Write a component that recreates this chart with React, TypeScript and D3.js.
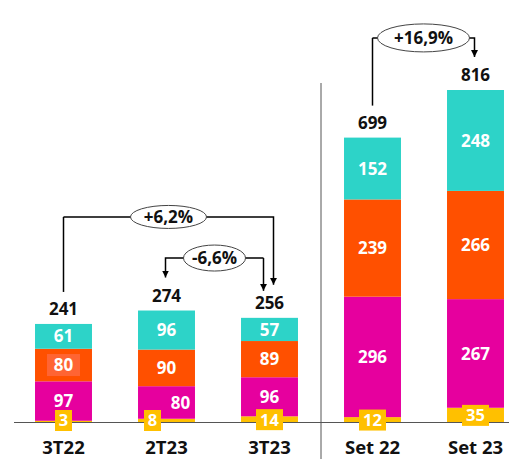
import React from 'react';
import * as d3 from 'd3';

const categories = ['3T22', '2T23', '3T23', 'Set 22', 'Set 23'];
const yellowValues = [3, 8, 14, 12, 35];
const magentaValues = [97, 80, 96, 296, 267];
const orangeValues = [80, 90, 89, 239, 266];
const cyanValues = [61, 96, 57, 152, 248];
const totals = [241, 274, 256, 699, 816];

const seriesColors = ['#FFC000', '#E6009E', '#FF5000', '#2DD3C8'];

// change brackets: from category, to category, label, bracket level (in chart units)
const changes = [
  { from: 0, to: 2, label: '+6,2%', level: 504, arrowFrom: false, dxFrom: 0, dxTo: 4, rx: 38, ry: 11.5 },
  { from: 2, to: 1, label: '-6,6%', level: 403, arrowFrom: true, dxFrom: -6, dxTo: -1, rx: 31, ry: 13 },
  { from: 3, to: 4, label: '+16,9%', level: 944, arrowFrom: false, dxFrom: 0, dxTo: -1, rx: 46, ry: 14 },
];

const W = 509;
const H = 459;
const baseY = 422;
const font = '"Open Sans", Lato, sans-serif';

const App: React.FC = () => {
  const x = d3.scaleBand<string>()
    .domain(categories)
    .range([12, 527])
    .paddingInner(0.447)
    .paddingOuter(0.2235);
  const y = d3.scaleLinear().domain([0, 816]).range([baseY, 90]);

  const rows = categories.map((c, i) => ({
    cat: c,
    v0: yellowValues[i],
    v1: magentaValues[i],
    v2: orangeValues[i],
    v3: cyanValues[i],
  }));
  const stack = d3.stack<any>().keys(['v0', 'v1', 'v2', 'v3'])(rows);

  const bw = x.bandwidth();
  const cx = (i: number) => (x(categories[i]) as number) + bw / 2;
  const sepX = (cx(2) + cx(3)) / 2;

  return (
    <svg width={W} height={H} style={{ position: 'absolute', left: 0, top: 0 }} fontFamily={font}>
      <defs>
        <marker id="arr" viewBox="0 0 10 10" refX="10" refY="5" markerWidth="7" markerHeight="7"
          markerUnits="userSpaceOnUse" orient="auto">
          <path d="M0,0 L10,5 L0,10 Z" fill="#000" />
        </marker>
      </defs>

      {stack.map((layer, si) => (
        <g key={si}>
          {layer.map((d, i) => (
            <rect key={i} x={x(categories[i])} width={bw}
              y={y(d[1])} height={y(d[0]) - y(d[1])} fill={seriesColors[si]} />
          ))}
        </g>
      ))}

      <line x1={14} x2={W} y1={baseY + 0.5} y2={baseY + 0.5} stroke="#555" strokeWidth={1} />
      <line x1={sepX} x2={sepX} y1={83} y2={H} stroke="#555" strokeWidth={1} />

      {/* segment labels */}
      {stack.map((layer, si) => (
        <g key={'l' + si}>
          {layer.map((d, i) => {
            const v = d[1] - d[0];
            const my = (y(d[0]) + y(d[1])) / 2;
            let lx = cx(i);
            if (si === 0) {
              if (categories[i] === '2T23') lx = cx(i) - 14;
              const bwid = String(v).length > 1 ? 27 : 17;
              const by = Math.min(my, baseY - 2) + 0.5;
              return (
                <g key={i}>
                  <rect x={lx - bwid / 2} y={by - 10.5} width={bwid} height={21} fill="#FFC000" />
                  <text x={lx} y={by} dy="0.36em" textAnchor="middle" fill="#fff"
                    fontWeight={700} fontSize={16.5}>{v}</text>
                </g>
              );
            }
            if (si === 1 && categories[i] === '2T23') lx = cx(i) + 14;
            return (
              <g key={i}>
                {si === 2 && i === 0 && (
                  <rect x={lx - 16.5} y={my - 11} width={33} height={22} fill="#FF6433" />
                )}
                <text x={lx} y={my} dy="0.36em" textAnchor="middle" fill="#fff"
                  fontWeight={700} fontSize={17}>{v}</text>
              </g>
            );
          })}
        </g>
      ))}

      {/* totals */}
      {totals.map((t, i) => (
        <text key={'t' + i} x={cx(i)} y={y(t) - 9} textAnchor="middle" fill="#111"
          fontWeight={700} fontSize={17}>{t}</text>
      ))}

      {/* category labels */}
      {categories.map((c, i) => (
        <text key={'c' + i} x={cx(i)} y={454} textAnchor="middle" fill="#111"
          fontWeight={700} fontSize={18.5}>{c}</text>
      ))}

      {/* change brackets */}
      {changes.map((c, k) => {
        const x1 = cx(c.from) + c.dxFrom;
        const x2 = cx(c.to) + c.dxTo;
        const ly = y(c.level);
        const y1 = y(totals[c.from]) - (c.arrowFrom ? 27 : 32);
        const y2 = y(totals[c.to]) - 33;
        const mx = (x1 + x2) / 2;
        return (
          <g key={'a' + k}>
            <path d={`M${x1},${ly} L${x1},${y1}`} stroke="#000" strokeWidth={1.5} fill="none"
              markerEnd={c.arrowFrom ? 'url(#arr)' : undefined} />
            <path d={`M${x1},${ly} L${x2},${ly} L${x2},${y2}`} stroke="#000" strokeWidth={1.5}
              fill="none" markerEnd="url(#arr)" />
            <ellipse cx={mx} cy={ly} rx={c.rx} ry={c.ry} fill="#fff" stroke="#444" strokeWidth={1} />
            <text x={mx} y={ly} dy="0.36em" textAnchor="middle" fill="#111" fontWeight={700}
              fontSize={17}>{c.label}</text>
          </g>
        );
      })}
    </svg>
  );
};

export default App;
